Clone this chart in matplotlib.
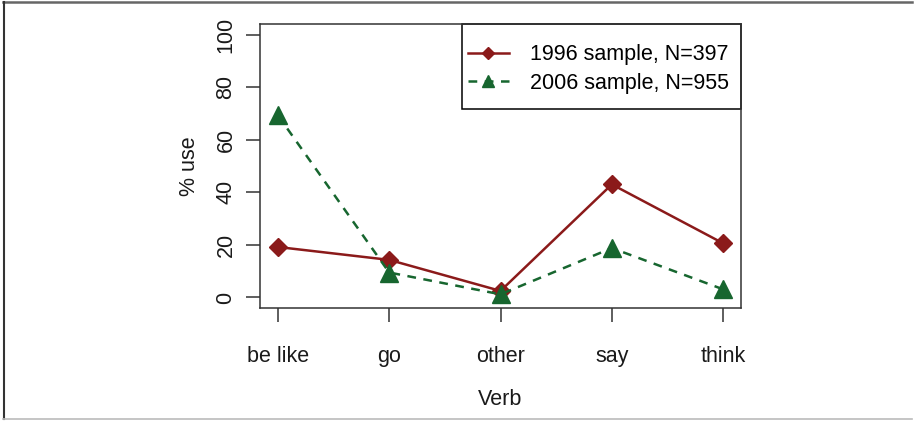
import matplotlib
matplotlib.use("Agg")
import matplotlib.pyplot as plt
from matplotlib.lines import Line2D
from matplotlib.patches import Rectangle

plt.rcParams['font.family'] = ['Liberation Sans', 'DejaVu Sans']

verbs = ["be like", "go", "other", "say", "think"]
use_1996 = [19.2, 14.3, 2.5, 43.0, 20.6]
use_2006 = [69.3, 9.5, 1.2, 18.8, 3.1]
yticks = [0, 20, 40, 60, 80, 100]

red = '#8b1a1a'
green = '#17662f'
txt = '#1a1a1a'

fig = plt.figure(figsize=(9.14, 4.21), dpi=100)
ax = fig.add_axes([0.2845, 0.2684, 0.8107 - 0.2845, 0.943 - 0.2684])

x = list(range(len(verbs)))
ax.plot(x, use_1996, color=red, lw=1.8, marker='D', ms=9,
        label='1996 sample, N=397')
ax.plot(x, use_2006, color=green, lw=1.8, ls=(0, (3.5, 3)), marker='^', ms=12.5,
        label='2006 sample, N=955')

ax.set_xlim(-0.16, 4.16)
ax.set_ylim(-4, 104)
ax.set_xticks(x)
ax.set_xticklabels(verbs)
ax.set_yticks(yticks)
ax.set_yticklabels([str(v) for v in yticks], rotation=90, va='center')
ax.tick_params(axis='both', length=10, width=1.1, color='#333333',
               labelsize=15.5, labelcolor=txt)
ax.tick_params(axis='y', pad=7)
ax.tick_params(axis='x', pad=17)
for s in ax.spines.values():
    s.set_linewidth(1.1)
    s.set_color('#333333')

ax.set_xlabel('Verb', fontsize=15.5, color=txt, labelpad=16)
ax.set_ylabel('% use', fontsize=15.5, color=txt, labelpad=11)

# legend without its own frame; an R-style box is drawn round it below
leg = ax.legend(loc='upper right', bbox_to_anchor=(0.98, 0.937), borderaxespad=0,
                fontsize=15.5, frameon=False, handlelength=1.9,
                handletextpad=1.0, labelspacing=0.35, borderpad=0.1,
                markerscale=0.7)

fig.canvas.draw()
bb = leg.get_window_extent().transformed(ax.transAxes.inverted())
ax.add_patch(Rectangle((bb.x0 - 0.008, bb.y0 - 0.045), 1 - bb.x0 + 0.008,
                       1 - bb.y0 + 0.045, transform=ax.transAxes,
                       facecolor='white', edgecolor='black', lw=1.1,
                       zorder=1.5, clip_on=False))
leg.set_zorder(3)

# outer frame of the original figure
fig.add_artist(Line2D([0.003, 0.998], [0.996, 0.996], color='#666666', lw=1.8))
fig.add_artist(Line2D([0.004, 0.004], [0.004, 0.996], color='#333333', lw=1.5))
fig.add_artist(Line2D([0.003, 0.998], [0.004, 0.004], color='#bbbbbb', lw=1.2))

fig.savefig('out.png', dpi=100)
